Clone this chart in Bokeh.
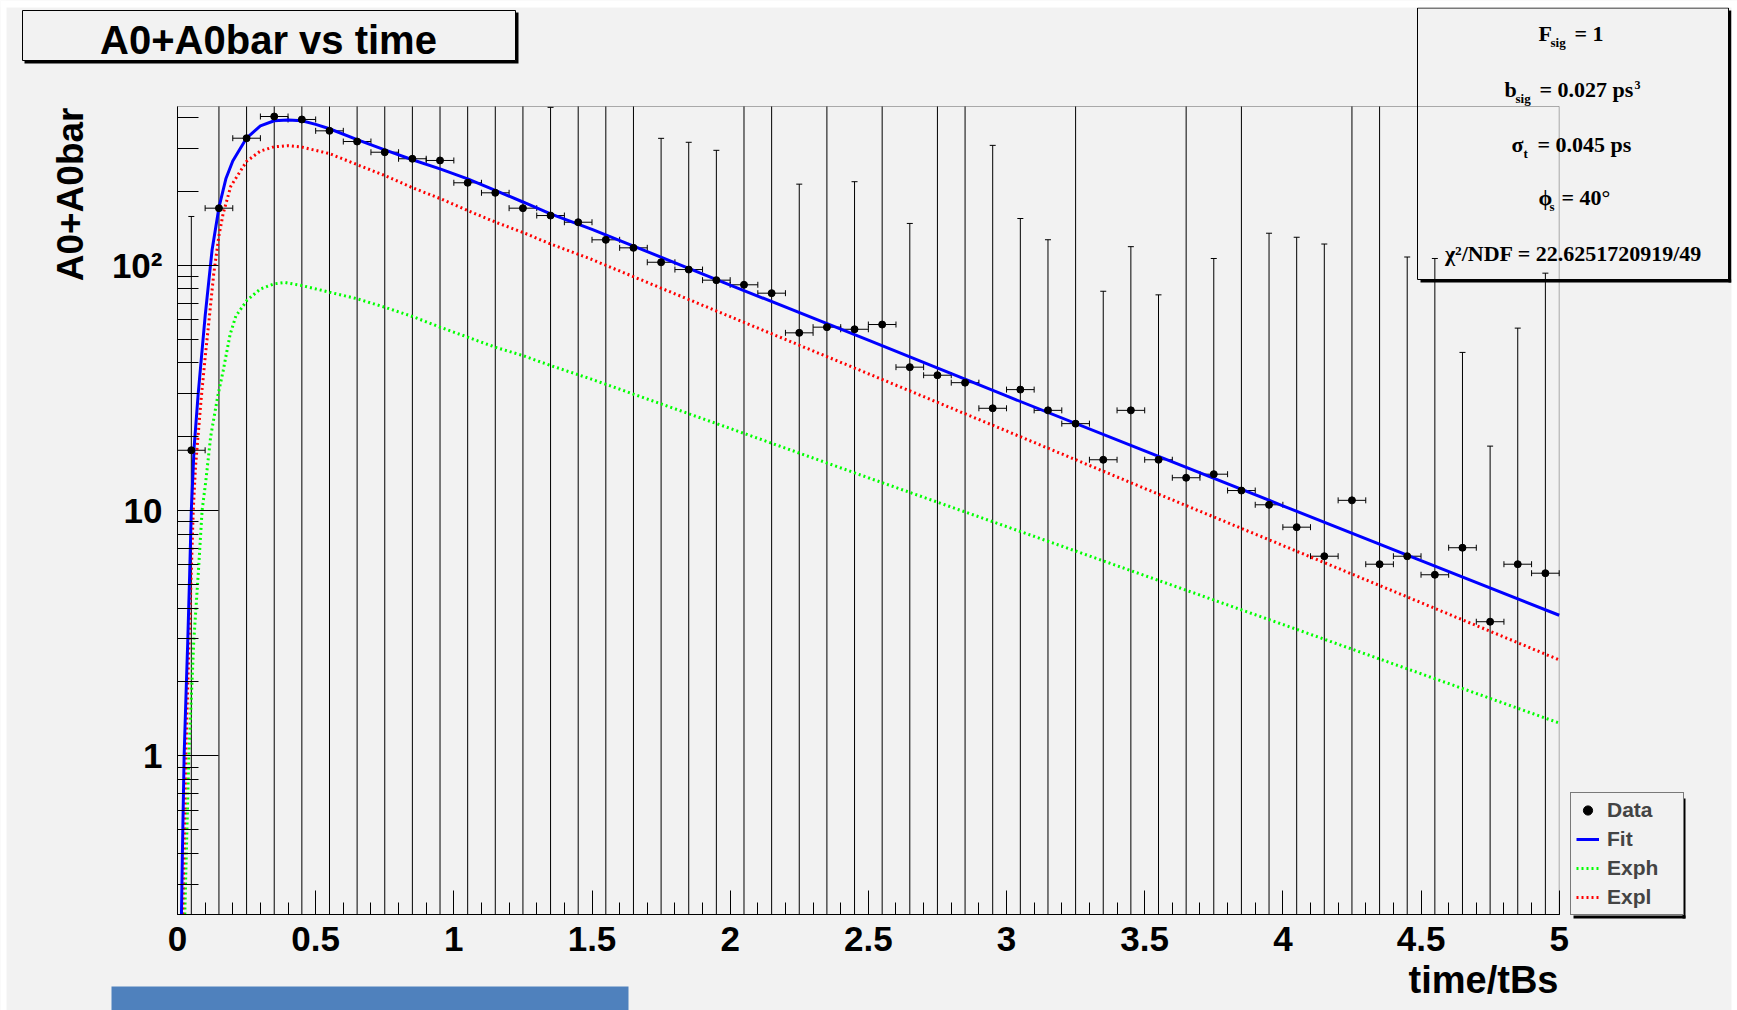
import numpy as np
from bokeh.plotting import figure
from bokeh.models import Range1d, FixedTicker, Label, BoxAnnotation, Legend, LegendItem
from bokeh.embed import file_html
from bokeh.resources import INLINE

# ---------------- data ----------------
bin_centers = [0.05, 0.15, 0.25, 0.35, 0.45, 0.55, 0.65, 0.75, 0.85, 0.95,
               1.05, 1.15, 1.25, 1.35, 1.45, 1.55, 1.65, 1.75, 1.85, 1.95,
               2.05, 2.15, 2.25, 2.35, 2.45, 2.55, 2.65, 2.75, 2.85, 2.95,
               3.05, 3.15, 3.25, 3.35, 3.45, 3.55, 3.65, 3.75, 3.85, 3.95,
               4.05, 4.15, 4.25, 4.35, 4.45, 4.55, 4.65, 4.75, 4.85, 4.95]
bin_half_width = 0.05
counts = [17.6, 170.8, 329.4, 403.8, 392.7, 353.0, 319.3, 288.8, 271.6, 267.3,
          216.8, 197.3, 170.8, 159.4, 149.7, 126.9, 117.7, 102.8, 96.0, 86.9,
          83.2, 76.9, 53.0, 55.9, 54.8, 57.3, 38.4, 35.6, 33.2, 26.1,
          31.1, 25.6, 22.6, 16.1, 25.6, 16.1, 13.6, 14.06, 12.06, 10.55,
          8.55, 6.51, 11.0, 6.04, 6.51, 5.47, 7.05, 3.52, 6.04, 5.55]
# upper end of each vertical error bar
err_top = [158, 900, 1000, 1100, 1100, 1000, 950, 900, 880, 870,
           800, 760, 700, 440, 650, 600, 600, 329, 317, 294,
           600, 600, 214, 600, 219, 600, 148, 600, 600, 308,
           155, 127, 600, 78.3, 119, 75.7, 600, 106.5, 600, 135,
           130, 122, 600, 600, 108, 106.5, 44.1, 18.3, 55.4, 92.8]

fit_t = [0.012, 0.018, 0.024, 0.031, 0.037, 0.044, 0.050, 0.060, 0.075, 0.100,
         0.125, 0.150, 0.175, 0.200, 0.250, 0.300, 0.350, 0.400, 0.450, 0.500,
         0.550, 0.650, 0.750, 0.850, 0.950, 1.050, 1.150, 1.250, 1.350, 1.500,
         2.000, 2.500, 3.000, 3.500, 4.000, 4.500, 5.000]
fit_v = [0.15, 0.42, 1.0, 1.8, 2.9, 5.5, 10.0, 18.0, 30.0, 62.0,
         115.0, 172.0, 225.0, 266.0, 330.0, 370.0, 388.0, 391.0, 388.0, 375.0,
         360.0, 325.0, 295.0, 269.0, 247.0, 225.0, 202.0, 181.0, 162.0, 140.0,
         83.0, 49.5, 29.3, 17.5, 10.45, 6.25, 3.74]

expl_t = [0.016, 0.019, 0.030, 0.042, 0.057, 0.065, 0.085, 0.100, 0.115, 0.131,
          0.150, 0.165, 0.193, 0.250, 0.300, 0.350, 0.400, 0.450, 0.550, 0.650,
          0.750, 0.850, 0.950, 1.050, 1.150, 1.250, 1.350, 1.495, 2.000, 2.500,
          3.000, 3.500, 4.000, 4.500, 5.000]
expl_v = [0.15, 0.23, 1.0, 2.95, 10.0, 15.0, 28.0, 42.0, 61.0, 92.0,
          132.0, 162.0, 210.0, 265.0, 292.0, 304.0, 307.0, 303.0, 285.0, 257.0,
          232.0, 207.0, 187.0, 167.0, 150.0, 136.0, 122.0, 106.0, 61.7, 36.1,
          21.1, 12.3, 7.2, 4.21, 2.46]

exph_t = [0.022, 0.0265, 0.041, 0.059, 0.075, 0.089, 0.1025, 0.120, 0.145, 0.165,
          0.190, 0.211, 0.252, 0.300, 0.350, 0.390, 0.450, 0.550, 0.650, 0.750,
          0.850, 0.950, 1.050, 1.150, 1.250, 1.350, 1.495, 2.000, 2.500, 3.000,
          3.500, 4.000, 4.500, 5.000]
exph_v = [0.15, 0.23, 1.0, 2.95, 5.5, 10.0, 13.2, 20.0, 29.0, 37.0,
          52.0, 62.0, 72.0, 80.0, 84.0, 85.0, 82.6, 77.6, 73.0, 67.4,
          61.8, 55.9, 50.9, 46.3, 42.8, 39.0, 34.4, 21.6, 13.6, 8.6,
          5.43, 3.43, 2.16, 1.36]

x_major = [0.0, 0.5, 1.0, 1.5, 2.0, 2.5, 3.0, 3.5, 4.0, 4.5, 5.0]
x_labels = ["0", "0.5", "1", "1.5", "2", "2.5", "3", "3.5", "4", "4.5", "5"]
x_minor = [round(0.1 * i, 1) for i in range(51)]
y_major = [1.0, 10.0, 100.0]
y_labels = ["1", "10", "10\u00b2"]
y_minor = [0.3, 0.4, 0.5, 0.6, 0.7, 0.8, 0.9, 2, 3, 4, 5, 6, 7, 8, 9,
           20, 30, 40, 50, 60, 70, 80, 90, 200, 300, 400]

X_MIN, X_MAX = 0.0, 5.0
Y_MIN, Y_MAX = 0.2254, 443.6

# ---------------- page geometry (pixels) ----------------
W, H = 1737, 1010
FX0, FX1, FY0, FY1 = 177.0, 1558.7, 106.0, 914.0   # data area on the page
BG = "#f2f2f2"

sx = (X_MAX - X_MIN) / (FX1 - FX0)
lspan = (np.log10(Y_MAX) - np.log10(Y_MIN)) / (FY1 - FY0)
xr = Range1d(X_MIN - FX0 * sx, X_MAX + (W - FX1) * sx)
yr = Range1d(10 ** (np.log10(Y_MIN) - (H - FY1) * lspan),
             10 ** (np.log10(Y_MAX) + FY0 * lspan))

p = figure(width=W, height=H, x_range=xr, y_range=yr, y_axis_type="log",
           output_backend="svg", toolbar_location=None,
           min_border=0, min_border_left=0, min_border_right=0,
           min_border_top=0, min_border_bottom=0)
p.title.visible = False
p.background_fill_color = BG
p.border_fill_color = "white"
p.outline_line_color = None
p.grid.visible = False

# axes drawn at the edges of the data area
xa = p.xaxis[0]
xa.fixed_location = Y_MIN
xa.bounds = (X_MIN, X_MAX)
xa.ticker = FixedTicker(ticks=x_major, minor_ticks=x_minor)
xa.major_label_overrides = {v: s for v, s in zip(x_major, x_labels)}
xa.major_tick_in, xa.major_tick_out = 24, 0
xa.minor_tick_in, xa.minor_tick_out = 12, 0
xa.major_label_standoff = 12
ya = p.yaxis[0]
ya.fixed_location = X_MIN
ya.bounds = (Y_MIN, Y_MAX)
ya.ticker = FixedTicker(ticks=y_major, minor_ticks=y_minor)
ya.major_label_overrides = {v: s for v, s in zip(y_major, y_labels)}
ya.major_tick_in, ya.major_tick_out = 41, 0
ya.minor_tick_in, ya.minor_tick_out = 21, 0
ya.major_label_standoff = 15
for ax in (xa, ya):
    ax.major_label_text_font = "Liberation Sans"
    ax.major_label_text_font_style = "bold"
    ax.major_label_text_font_size = "35px"
    ax.major_label_text_color = "black"
    ax.axis_line_color = "black"
    ax.major_tick_line_color = "black"
    ax.minor_tick_line_color = "black"

# ---------------- glyphs (clipped to the data area) ----------------
def clip_low(ts, vs, vmin):
    out_t, out_v = [], []
    for i in range(len(ts)):
        if vs[i] >= vmin:
            if i > 0 and vs[i - 1] < vmin:
                l0, l1 = np.log10(vs[i - 1]), np.log10(vs[i])
                f = (np.log10(vmin) - l0) / (l1 - l0)
                out_t.append(ts[i - 1] + f * (ts[i] - ts[i - 1]))
                out_v.append(vmin)
            out_t.append(ts[i])
            out_v.append(vs[i])
    return out_t, out_v

bx = np.array(bin_centers)
cy = np.array(counts)
top = np.array(err_top)
low = np.maximum(cy - (top - cy), Y_MIN)
top_c = np.minimum(top, Y_MAX)
capped = top <= Y_MAX

p.segment(x0=bx, y0=low, x1=bx, y1=top_c, line_color="black", line_width=1)
p.scatter(bx[capped], top[capped], marker="dash", size=6, line_color="black", line_width=1)
p.segment(x0=bx - bin_half_width, y0=cy, x1=bx + bin_half_width, y1=cy,
          line_color="black", line_width=1)
p.scatter(np.concatenate([bx - bin_half_width, bx + bin_half_width]),
          np.concatenate([cy, cy]), marker="dash", angle=np.pi / 2, size=6,
          line_color="black", line_width=1)

r_exph = p.line(*clip_low(exph_t, exph_v, Y_MIN), line_color="#00ff00", line_width=3, line_dash="2 3")
r_expl = p.line(*clip_low(expl_t, expl_v, Y_MIN), line_color="#ff0000", line_width=3, line_dash="2 3")
r_fit = p.line(*clip_low(fit_t, fit_v, Y_MIN), line_color="#0000ff", line_width=3)
r_pts = p.scatter(bx, cy, size=7, color="black")

# frame of the data area
p.add_layout(BoxAnnotation(left=X_MIN, right=X_MAX, bottom=Y_MIN, top=Y_MAX,
                           fill_alpha=0, line_color="black", line_width=1))

# ---------------- annotations in page pixels ----------------
def box(x0, x1, y0, y1, fill=None, line=None, lw=1, level="annotation"):
    p.add_layout(BoxAnnotation(left=x0, right=x1, top=H - y0, bottom=H - y1,
                               left_units="screen", right_units="screen",
                               top_units="screen", bottom_units="screen",
                               fill_color=fill if fill else BG, fill_alpha=1 if fill else 0,
                               line_color=line if line else "black",
                               line_alpha=1 if line else 0, line_width=lw, level=level))

SHIFT = 0.38  # the renderer puts the baseline this fraction of the size lower

def text(t, X, Y, size, font="Liberation Serif", align="left", rotated=False):
    if rotated:
        x, y, ang = X - SHIFT * size, H - Y, np.pi / 2
    else:
        x, y, ang = X, H - (Y - SHIFT * size), 0.0
    p.add_layout(Label(x=x, y=y, x_units="screen", y_units="screen",
                       text=t, text_font=font, text_font_size=f"{size}px",
                       text_font_style="bold", text_color="black",
                       text_align=align, text_baseline="alphabetic", angle=ang))

# white page around the canvas
box(0, 6, 0, H, fill="white", level="overlay")
box(0, W, 0, 7, fill="white", level="overlay")
box(1731, W, 0, H, fill="white", level="overlay")

# title box
box(24, 518, 12, 63, fill="black")
box(22, 515, 10, 60, fill=BG, line="black")
text("A0+A0bar vs time", 268, 55, 40, font="Liberation Sans", align="center")

# stats box (transparent, with shadow)
box(1728, 1731, 10, 282, fill="black")
box(1420, 1731, 279, 282, fill="black")
box(1417, 1728, 7.5, 279, fill=None, line="black")
text("F", 1538, 41, 22)
text("sig", 1550, 47, 13)
text("= 1", 1574, 41, 22)
text("b", 1504, 97, 22)
text("sig", 1515, 103, 13)
text("= 0.027 ps", 1539, 97, 22)
text("3", 1634, 89, 12)
text("\u03c3", 1511, 152, 22)
text("t", 1523, 158, 13)
text("= 0.045 ps", 1537, 152, 22)
text("\u03d5", 1538, 205, 22)
text("s", 1549, 211, 13)
text("= 40\u00b0", 1561, 205, 22)
text("\u03c7\u00b2/NDF = 22.6251720919/49", 1573, 261, 22, align="center")

# axis titles
text("A0+A0bar", 84, 107, 37, font="Liberation Sans", align="right", rotated=True)
text("time/tBs", 1558, 994, 38, font="Liberation Sans", align="right")

# legend
legend = Legend(items=[LegendItem(label="Data", renderers=[r_pts]),
                       LegendItem(label="Fit", renderers=[r_fit]),
                       LegendItem(label="Exph", renderers=[r_exph]),
                       LegendItem(label="Expl", renderers=[r_expl])],
                location=(1570, H - 915), orientation="vertical",
                border_line_color="black", border_line_width=1,
                background_fill_color=BG, background_fill_alpha=1,
                label_text_font="Liberation Sans", label_text_font_style="bold",
                label_text_font_size="21px", glyph_width=23, glyph_height=24,
                label_height=24, label_width=71, label_standoff=8, spacing=5,
                padding=5, margin=0)
p.add_layout(legend)
box(1682, 1685, 798, 918, fill="black")
box(1573, 1685, 915, 918, fill="black")

# slide strip at the bottom
box(111, 628, 986, H, fill="#4f81bd")

open("out.html", "w").write(file_html(p, INLINE))
